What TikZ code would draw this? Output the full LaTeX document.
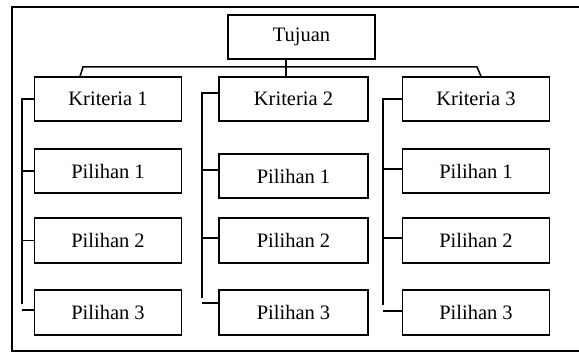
\documentclass[tikz,border=0pt]{standalone}
\usepackage{fontspec}
\setmainfont{Liberation Serif}
\usetikzlibrary{calc}
\begin{document}
\begin{tikzpicture}[x=1pt,y=-1pt,
  box/.style={draw,line width=1.5pt,minimum width=147pt,minimum height=44pt,inner sep=0pt,
    font=\fontsize{20.5}{24}\selectfont},
  conn/.style={line width=1.5pt}]
\useasboundingbox (0,0) rectangle (579,353);
\draw[line width=1.3pt] (579,7) -- (12,7) -- (12,351) -- (579,351);
% nodes
\node[box] (t) at (301.5,37) {Tujuan};
\node[box] (k1) at (108,99) {Kriteria 1};
\node[box,minimum width=149pt] (k2) at (293.5,99) {Kriteria 2};
\node[box] (k3) at (476,99) {Kriteria 3};
\node[box] (p11) at (108,171) {Pilihan 1};
\node[box,minimum height=45pt] (p12) at (108,240.5) {Pilihan 2};
\node[box,minimum height=45pt] (p13) at (108,312.5) {Pilihan 3};
\node[box,minimum width=149pt] (p21) at (293.5,176) {Pilihan 1};
\node[box,minimum width=149pt,minimum height=45pt] (p22) at (293.5,240.5) {Pilihan 2};
\node[box,minimum width=149pt,minimum height=45pt] (p23) at (293.5,312.5) {Pilihan 3};
\node[box] (p31) at (476,171) {Pilihan 1};
\node[box,minimum height=45pt] (p32) at (476,240.5) {Pilihan 2};
\node[box,minimum height=45pt] (p33) at (476,312.5) {Pilihan 3};
% bus coordinates
\coordinate (bl) at (80,77);
\coordinate (blt) at (83,67);
\coordinate (brt) at (477,67);
\coordinate (br) at (481,77);
\coordinate (tm) at (286,67);
\coordinate (s1) at (22,0);
\coordinate (s2) at (202,0);
\coordinate (s3) at (383,0);
\coordinate (e1) at (22,304);
\coordinate (e2) at (202,298);
\coordinate (e3) at (383,305);
% top connectors
\draw[conn] (k1.north -| bl) -- (blt) -- (brt) -- (k3.north -| br);
\draw[conn] (t.south -| tm) -- (k2.north -| tm);
% column 1
\draw[conn] (k1.west) -- (k1.west -| s1) -- (e1);
\draw[conn] (p11.west) -- (p11.west -| s1);
\draw[conn] (p12.west) -- (p12.west -| s1);
\draw[conn] ($(p13.west)+(0,-2.5)$) -- ($(p13.west -| s1)+(0,-2.5)$);
% column 2
\draw[conn] ($(k2.west)+(0,-6)$) -- ($(k2.west -| s2)+(0,-6)$) -- (e2);
\draw[conn] ($(p21.west)+(0,-6)$) -- ($(p21.west -| s2)+(0,-6)$);
\draw[conn] ($(p22.west)+(0,-2.5)$) -- ($(p22.west -| s2)+(0,-2.5)$);
\draw[conn] ($(p23.west)+(0,-9.5)$) -- ($(p23.west -| s2)+(0,-9.5)$);
% column 3
\draw[conn] (k3.west) -- (k3.west -| s3) -- (e3);
\draw[conn] ($(p31.west)+(0,-2)$) -- ($(p31.west -| s3)+(0,-2)$);
\draw[conn] ($(p32.west)+(0,-2.5)$) -- ($(p32.west -| s3)+(0,-2.5)$);
\draw[conn] ($(p33.west)+(0,-1.5)$) -- ($(p33.west -| s3)+(0,-1.5)$);
\end{tikzpicture}
\end{document}
